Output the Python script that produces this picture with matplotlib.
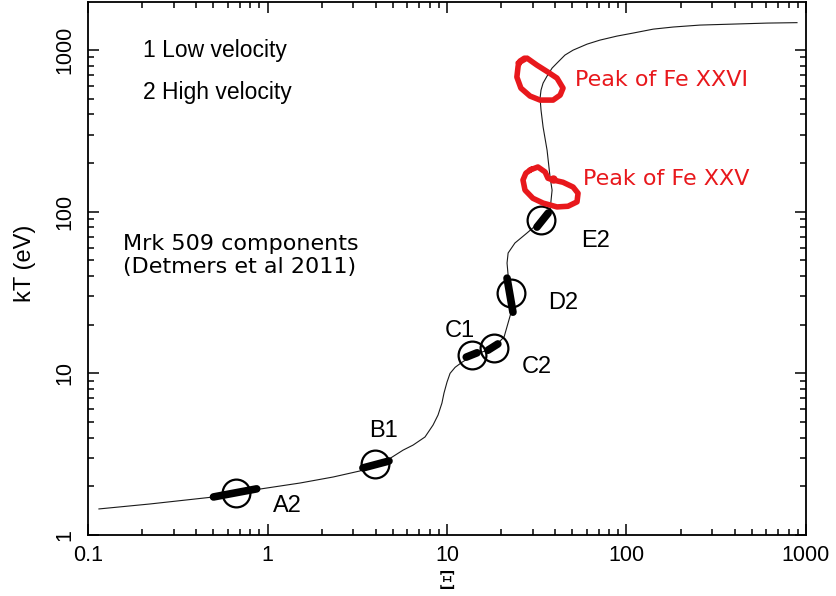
import matplotlib
matplotlib.use("Agg")
import matplotlib.pyplot as plt
from matplotlib.ticker import LogLocator, NullFormatter, FixedFormatter, FixedLocator

plt.rcParams['font.family'] = ['Liberation Sans', 'DejaVu Sans']

# Thermal stability curve: ionisation parameter Xi vs temperature kT (eV)
xi_curve = [0.115, 0.221, 0.497, 0.908, 1.52, 2.32, 3.27, 3.97, 4.75, 5.69,
            6.47, 7.54, 8.36, 8.91, 9.37, 9.62, 10.0, 10.4, 11.1, 12.1, 13.8,
            18.3, 20.8, 22.7, 22.4, 21.6, 21.9, 23.9, 27.9, 33.8, 37.5, 38.5,
            37.5, 36.1, 34.3, 33.4, 33.0, 33.4, 34.3, 36.1, 38.5, 41.0, 45.4,
            50.4, 60.3, 71.1, 88.5, 109, 141, 182, 257, 392, 607, 891]
kt_curve = [1.45, 1.556, 1.718, 1.925, 2.098, 2.285, 2.49, 2.75, 2.95, 3.35,
            3.60, 4.04, 4.79, 5.52, 6.55, 7.55, 8.83, 10.0, 10.9, 11.7, 12.8,
            14.5, 16.8, 23.6, 30.5, 48.1, 55.5, 64.0, 73.8, 88.7, 102, 136,
            164, 240, 334, 425, 504, 565, 624, 690, 773, 830, 930,
            998, 1087, 1151, 1219, 1273, 1346, 1387, 1426, 1446, 1467, 1476]

# Mrk 509 absorber components: name, Xi range, kT range, circle centre
comp_names = ["A2", "B1", "C1", "C2", "D2", "E2"]
comp_xi_lo = [0.50, 3.40, 12.8, 16.9, 23.3, 31.7]
comp_xi_hi = [0.87, 4.75, 14.7, 19.2, 21.6, 36.6]
comp_kt_lo = [1.72, 2.60, 12.6, 13.9, 23.9, 80.3]
comp_kt_hi = [1.93, 2.87, 13.4, 15.2, 38.8, 98.0]
comp_xi_c = [0.668, 3.97, 13.8, 18.3, 22.7, 33.4]
comp_kt_c = [1.82, 2.75, 12.9, 14.3, 31.2, 88.7]
label_xi = [1.07, 3.67, 9.75, 26.2, 36.5, 55.8]
label_kt = [1.39, 4.04, 16.8, 10.0, 25.0, 60.4]

# Hand-marked peak regions of the iron ions
fe26_xi = [24.9, 27.9, 31.7, 36.5, 41.0, 44.3, 42.7, 39.0, 33.0, 29.0, 25.8,
           24.5, 24.9, 25.5, 27.0]
fe26_kt = [830, 891, 806, 730, 670, 581, 526, 490, 490, 519, 581,
           680, 795, 854, 890]
fe25_xi = [29.0, 32.1, 35.2, 36.5, 39.0, 44.3, 50.4, 53.7, 53.0, 47.2, 41.0,
           34.3, 30.1, 27.2, 26.5, 27.5, 29.5]
fe25_kt = [181, 189, 176, 161, 157, 152, 142, 130, 115, 108, 107,
           113, 121, 136, 157, 173, 183]

RED = '#e8181c'

fig = plt.figure(figsize=(8.36, 5.96), dpi=100)
ax = fig.add_axes([0.1053, 0.1023, 0.9641 - 0.1053, 0.9966 - 0.1023])
ax.set_xscale('log')
ax.set_yscale('log')
ax.set_xlim(0.1, 1000)
ax.set_ylim(1, 1980)

ax.plot(xi_curve, kt_curve, color='#1a1a1a', lw=0.8, zorder=2,
        solid_joinstyle='round')

for i in range(len(comp_names)):
    ax.plot([comp_xi_lo[i], comp_xi_hi[i]], [comp_kt_lo[i], comp_kt_hi[i]],
            color='black', lw=5.5, solid_capstyle='round', zorder=3)
    ax.plot(comp_xi_c[i], comp_kt_c[i], marker='o', ms=20, mfc='none',
            mec='black', mew=1.6, zorder=4)
    ax.text(label_xi[i], label_kt[i], comp_names[i], fontsize=17,
            ha='left', va='baseline')

ax.plot(fe26_xi, fe26_kt, color=RED, lw=4, solid_capstyle='round',
        solid_joinstyle='round', zorder=5)
ax.plot(fe25_xi, fe25_kt, color=RED, lw=4, solid_capstyle='round',
        solid_joinstyle='round', zorder=5)
ax.plot([39.0], [160], marker='o', ms=5, color=RED, zorder=5)

ax.text(51.6, 598, "Peak of Fe XXVI", color=RED, fontsize=16,
        family='DejaVu Sans', ha='left', va='baseline')
ax.text(57.3, 146, "Peak of Fe XXV", color=RED, fontsize=16,
        family='DejaVu Sans', ha='left', va='baseline')

ax.text(0.0766, 0.897, "1 Low velocity", transform=ax.transAxes,
        fontsize=16.5, ha='left', va='baseline')
ax.text(0.0766, 0.818, "2 High velocity", transform=ax.transAxes,
        fontsize=16.5, ha='left', va='baseline')
ax.text(0.0487, 0.535, "Mrk 509 components", transform=ax.transAxes,
        fontsize=16, family='DejaVu Sans', ha='left', va='baseline')
ax.text(0.0487, 0.4916, "(Detmers et al 2011)", transform=ax.transAxes,
        fontsize=16, family='DejaVu Sans', ha='left', va='baseline')

# Ticks: decades labelled, minor ticks at 2..9, all pointing inward on four sides
xticks = [0.1, 1, 10, 100, 1000]
xtick_labels = ["0.1", "1", "10", "100", "1000"]
yticks = [1, 10, 100, 1000]
ytick_labels = ["1", "10", "100", "1000"]
ax.xaxis.set_major_locator(FixedLocator(xticks))
ax.xaxis.set_major_formatter(FixedFormatter(xtick_labels))
ax.yaxis.set_major_locator(FixedLocator(yticks))
ax.yaxis.set_major_formatter(FixedFormatter(ytick_labels))
ax.xaxis.set_minor_locator(LogLocator(base=10, subs=range(2, 10), numticks=20))
ax.yaxis.set_minor_locator(LogLocator(base=10, subs=range(2, 10), numticks=20))
ax.xaxis.set_minor_formatter(NullFormatter())
ax.yaxis.set_minor_formatter(NullFormatter())
ax.tick_params(which='both', direction='in', top=True, right=True,
               width=1.1, color='black')
ax.tick_params(which='major', length=8, labelsize=15.5)
ax.tick_params(which='minor', length=4.3)
ax.tick_params(axis='x', which='major', pad=7)
ax.tick_params(axis='y', which='major', pad=9)
for lab in ax.get_yticklabels():
    lab.set_rotation(90)
    lab.set_va('center')
for sp in ax.spines.values():
    sp.set_linewidth(1.3)

ax.set_ylabel("kT (eV)", fontsize=17)
ax.set_xlabel("Ξ", fontsize=17, family='DejaVu Serif')
ax.yaxis.set_label_coords(-0.072, 0.51)
ax.xaxis.set_label_coords(0.5, -0.068)

fig.savefig("out.png", dpi=100)
